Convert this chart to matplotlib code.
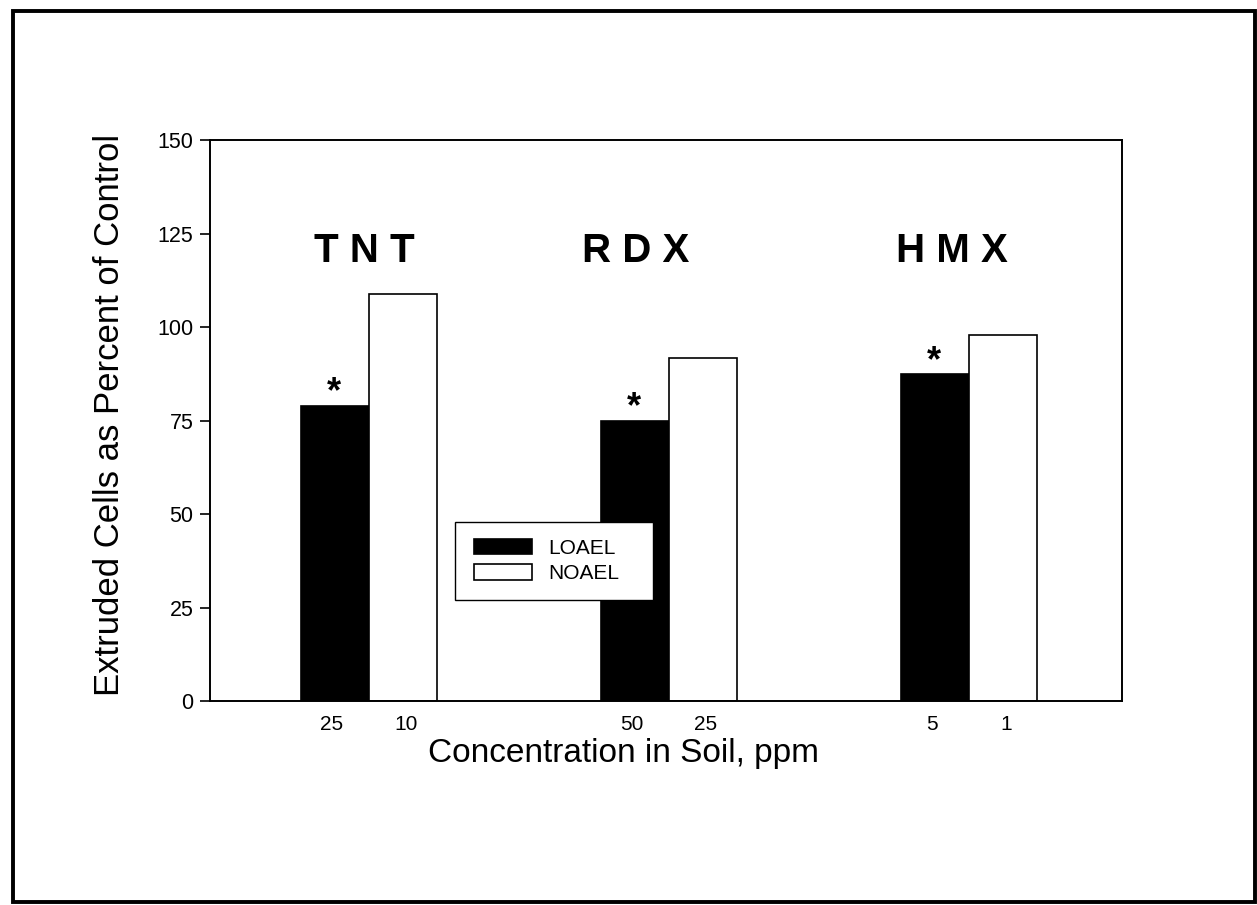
import matplotlib
matplotlib.use("Agg")
import matplotlib.pyplot as plt
from matplotlib.patches import Rectangle
import numpy as np

plt.rcParams['font.family'] = ['Liberation Sans', 'DejaVu Sans']

groups = ["TNT", "RDX", "HMX"]
loael = [79, 75, 87.4]
noael = [108.8, 91.7, 97.9]
loael_ppm = ["25", "50", "5"]
noael_ppm = ["10", "25", "1"]
yticks = [0, 25, 50, 75, 100, 125, 150]

W, H = 1257, 905
fig = plt.figure(figsize=(W/100, H/100), dpi=100)
ax = fig.add_axes([210/W, 1-701/H, (1122-210)/W, (701-140)/H])

x = np.arange(1, len(groups) + 1)
w = 0.227
ax.bar(x - w/2, loael, width=w, color='black', edgecolor='black', linewidth=1.2, label='LOAEL', zorder=2)
ax.bar(x + w/2, noael, width=w, color='white', edgecolor='black', linewidth=1.2, label='NOAEL', zorder=2)

ax.set_xlim(0.47, 3.51)
ax.set_ylim(0, 150)
ax.set_yticks(yticks)
ax.set_yticklabels([str(v) for v in yticks], fontsize=15.5)
ax.tick_params(axis='y', direction='out', length=7, width=1.2, pad=5)

xt = list(x - w/2 - 0.01) + list(x + w/2 + 0.01)
xl = loael_ppm + noael_ppm
ax.set_xticks(xt)
ax.set_xticklabels(xl, fontsize=15)
ax.tick_params(axis='x', length=0, pad=10)

for s in ax.spines.values():
    s.set_linewidth(1.4)

fig.text(110/W, 1-415/H, "Extruded Cells as Percent of Control", rotation=90,
         ha='center', va='center', fontsize=25)
fig.text(623/W, 1-753/H, "Concentration in Soil, ppm", ha='center', va='center',
         fontsize=24)

# group names (letter-spaced as in the original)
label_x = [0.983, 1.89, 2.943]
for i, g in enumerate(groups):
    ax.text(label_x[i], 120.3, " ".join(g), ha='center', va='center',
            fontsize=29, fontweight='bold')

# asterisks marking significance
for i in range(len(groups)):
    ax.text(x[i] - w/2 - 0.005, loael[i] + 0.8, "*", ha='center', va='baseline',
            fontsize=26, fontweight='bold')

# legend box (drawn explicitly to match the original's padding)
ax.add_patch(Rectangle((455/W, 1-600/H), (653-455)/W, (600-522)/H,
                       transform=fig.transFigure, facecolor='white',
                       edgecolor='black', linewidth=1.0, zorder=4, clip_on=False))
leg = ax.legend(loc='upper left', bbox_to_anchor=(474/W, 1-539/H),
                bbox_transform=fig.transFigure, frameon=False,
                fontsize=15, handlelength=2.8, handleheight=0.75,
                borderpad=0, labelspacing=0.3, handletextpad=0.75, borderaxespad=0)
leg.set_zorder(5)

# figure border
fig.patches.append(Rectangle((13/W, 1-902/H), (1255-13)/W, (902-11)/H,
                             transform=fig.transFigure, fill=False,
                             edgecolor='black', linewidth=2.8))

fig.savefig("out.png", dpi=100)
